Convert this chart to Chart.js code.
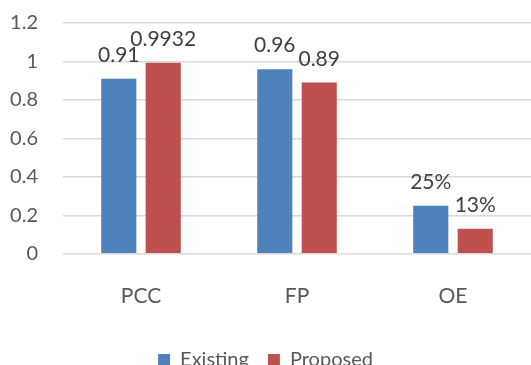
<!DOCTYPE html>
<html>
<head>
<meta charset="utf-8">
<script src="https://cdn.jsdelivr.net/npm/chart.js@4"></script>
<style>
  html, body { margin: 0; padding: 0; background: #fff; overflow: hidden; }
  #wrap { width: 531px; height: 380px; }
</style>
</head>
<body>
<div id="wrap"><canvas id="chart" width="531" height="380"></canvas></div>
<script>
// Chart data
const categories = ['PCC', 'FP', 'OE'];
const existingValues = [0.91, 0.96, 0.25];
const proposedValues = [0.9932, 0.89, 0.13];
const existingLabels = ['0.91', '0.96', '25%'];
const proposedLabels = ['0.9932', '0.89', '13%'];
const yTicks = [0, 0.2, 0.4, 0.6, 0.8, 1, 1.2];

const FONT = 'Lato, "Open Sans", sans-serif';

// Draw the value text above each bar
const barLabels = {
    id: 'barLabels',
    afterDatasetsDraw(chart) {
        const ctx = chart.ctx;
        ctx.save();
        ctx.font = '21px ' + FONT;
        ctx.fillStyle = '#404040';
        ctx.textAlign = 'center';
        ctx.textBaseline = 'alphabetic';
        chart.data.datasets.forEach((ds, i) => {
            chart.getDatasetMeta(i).data.forEach((bar, j) => {
                ctx.fillText(ds.valueLabels[j], bar.x, bar.y - 17);
            });
        });
        ctx.restore();
    }
};

new Chart(document.getElementById('chart'), {
    type: 'bar',
    data: {
        labels: categories,
        datasets: [
            {
                label: 'Existing',
                data: existingValues,
                valueLabels: existingLabels,
                backgroundColor: '#4F81BD',
                categoryPercentage: 0.57,
                barPercentage: 0.79
            },
            {
                label: 'Proposed',
                data: proposedValues,
                valueLabels: proposedLabels,
                backgroundColor: '#C0504D',
                categoryPercentage: 0.57,
                barPercentage: 0.79
            }
        ]
    },
    options: {
        responsive: false,
        animation: false,
        layout: {
            padding: 0
        },
        plugins: {
            legend: {
                position: 'bottom',
                labels: {
                    font: { family: FONT, size: 20 },
                    color: '#595959',
                    boxWidth: 12,
                    boxHeight: 12,
                    padding: 19
                }
            },
            tooltip: { enabled: false }
        },
        scales: {
            x: {
                grid: { display: false },
                border: { display: false },
                afterFit(axis) {
                    axis.paddingLeft = 0;
                    axis.paddingRight = 0;
                },
                ticks: {
                    font: { family: FONT, size: 21 },
                    color: '#595959',
                    padding: 22
                }
            },
            y: {
                min: 0,
                max: 1.2,
                afterBuildTicks(axis) {
                    axis.ticks = yTicks.map(v => ({ value: v }));
                },
                // fixed axis box so the plot area lines up with the original
                afterFit(axis) {
                    axis.width = 63;
                    axis.paddingTop = 23;
                    axis.paddingBottom = 12;
                },
                grid: { color: '#D9D9D9', lineWidth: 1.5, drawTicks: false },
                border: { display: false },
                ticks: {
                    font: { family: FONT, size: 20 },
                    color: '#595959',
                    padding: 25,
                    callback: value => String(value)
                }
            }
        }
    },
    plugins: [barLabels]
});
</script>
</body>
</html>
